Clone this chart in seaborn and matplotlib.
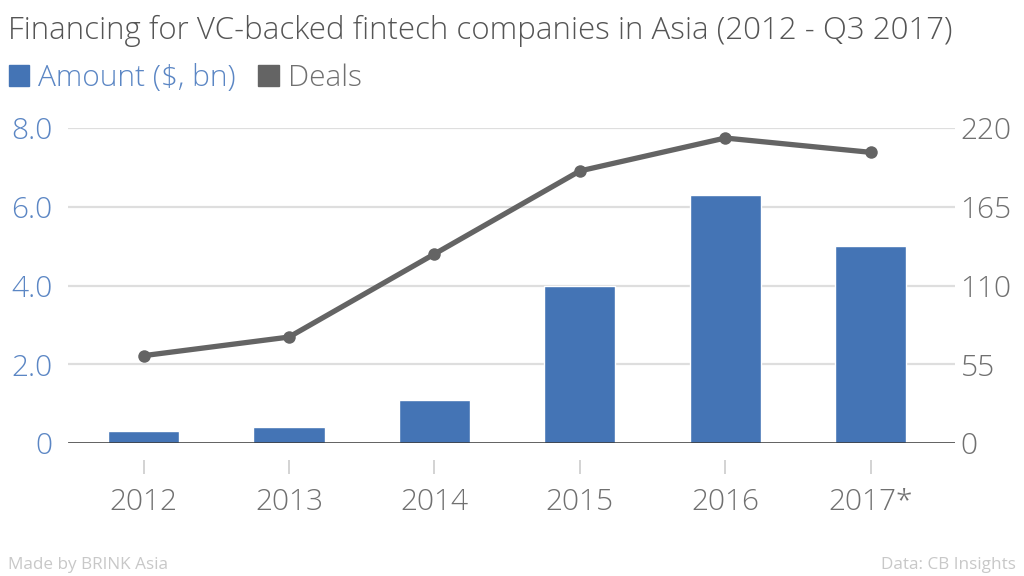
import numpy as np
import matplotlib
matplotlib.use('Agg')
import matplotlib.pyplot as plt
from matplotlib.patches import Patch
import seaborn as sns

# Data
years = ['2012', '2013', '2014', '2015', '2016', '2017*']
amount_bn = [0.3, 0.4, 1.1, 4.0, 6.3, 5.0]
deals = [61, 74, 132, 190, 213, 203]
left_ticks = [0, 2, 4, 6, 8]
left_labels = ['0', '2.0', '4.0', '6.0', '8.0']
right_ticks = [0, 55, 110, 165, 220]

BLUE = '#4474b5'
BLUE_TXT = '#5b86c4'
GREY = '#646464'
GREY_TXT = '#707070'

sns.set_style('white')
plt.rcParams['font.family'] = ['Open Sans', 'DejaVu Sans']

fig = plt.figure(figsize=(10.24, 5.76), dpi=100)
ax1 = fig.add_axes([68 / 1024, 1 - 443 / 576, 887 / 1024, 315 / 576])

sns.barplot(x=years, y=amount_bn, color=BLUE, width=0.49, saturation=1,
            ax=ax1, zorder=2)
ax1.set_ylim(0, 8)
ax1.set_xlim(-0.52, 5.58)
ax1.set_yticks(left_ticks)
ax1.set_yticklabels(left_labels)
for y in left_ticks[1:]:
    ax1.axhline(y, color='#dedede', lw=1.6, zorder=0)
ax1.axhline(0, color='#333333', lw=1.8, zorder=3)

ax2 = ax1.twinx()
sns.lineplot(x=np.arange(len(years)), y=deals, color=GREY, lw=3.8,
             marker='o', markersize=9, markeredgewidth=0, ax=ax2, zorder=4)
ax2.set_ylim(0, 220)
ax2.set_yticks(right_ticks)
ax2.set_xlim(-0.52, 5.58)

for ax in (ax1, ax2):
    for s in ax.spines.values():
        s.set_visible(False)
ax1.spines['bottom'].set_position(('outward', 12))

ax1.tick_params(axis='y', length=0, pad=11, labelsize=21.5, labelcolor=BLUE_TXT)
ax2.tick_params(axis='y', length=0, pad=4, labelsize=21.5, labelcolor=GREY_TXT)
ax1.tick_params(axis='x', length=10, width=1.2, color='#cccccc', pad=10,
                labelsize=21.5, labelcolor=GREY_TXT, bottom=True)
for lab in ax1.get_xticklabels() + ax1.get_yticklabels() + ax2.get_yticklabels():
    lab.set_fontweight('light')
ax1.set_xlabel('')
ax1.set_ylabel('')
ax2.set_ylabel('')

fig.text(8 / 1024, 1 - 31 / 576, 'Financing for VC-backed fintech companies in Asia (2012 - Q3 2017)',
         fontsize=22.5, color='#555555', va='center', ha='left', fontweight='light')

handles = [Patch(color=BLUE), Patch(color=GREY)]
leg = fig.legend(handles, ['Amount ($, bn)', 'Deals'], loc='center left',
                 bbox_to_anchor=(0.0, 1 - 78 / 576), ncol=2, frameon=False,
                 fontsize=21.5, handlelength=0.68, handleheight=0.68,
                 handletextpad=0.3, columnspacing=0.75, borderaxespad=0,
                 borderpad=0.3)
for t, c in zip(leg.get_texts(), [BLUE_TXT, GREY_TXT]):
    t.set_color(c)
    t.set_fontweight('light')

fig.text(8 / 1024, 1 - 565 / 576, 'Made by BRINK Asia', fontsize=12.3,
         color='#c8c8c8', va='center', ha='left')
fig.text(1016 / 1024, 1 - 565 / 576, 'Data: CB Insights', fontsize=12.3,
         color='#c8c8c8', va='center', ha='right')

fig.savefig('out.png', dpi=100)
